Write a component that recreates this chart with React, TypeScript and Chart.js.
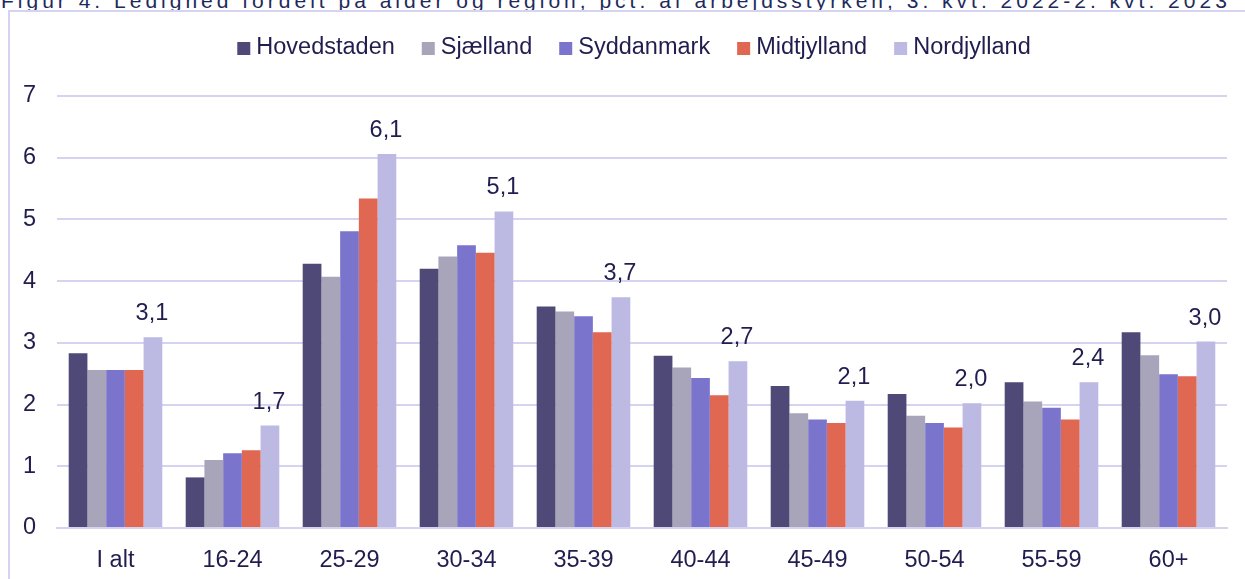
import React, { useEffect, useRef } from 'react';
import { Chart, registerables } from 'chart.js';

Chart.register(...registerables);

const categories = ['I alt', '16-24', '25-29', '30-34', '35-39', '40-44', '45-49', '50-54', '55-59', '60+'];
const seriesNames = ['Hovedstaden', 'Sjælland', 'Syddanmark', 'Midtjylland', 'Nordjylland'];
const hovedstaden = [2.83, 0.82, 4.28, 4.2, 3.59, 2.79, 2.3, 2.17, 2.36, 3.17];
const sjaelland = [2.56, 1.1, 4.07, 4.4, 3.51, 2.6, 1.86, 1.82, 2.05, 2.8];
const syddanmark = [2.56, 1.21, 4.81, 4.58, 3.43, 2.43, 1.76, 1.7, 1.95, 2.49];
const midtjylland = [2.56, 1.26, 5.34, 4.46, 3.17, 2.15, 1.7, 1.63, 1.76, 2.46];
const nordjylland = [3.09, 1.66, 6.06, 5.13, 3.74, 2.7, 2.06, 2.02, 2.36, 3.02];
const yTicks = [0, 1, 2, 3, 4, 5, 6, 7];
const title = 'Figur 4. Ledighed fordelt på alder og region, pct. af arbejdsstyrken, 3. kvt. 2022-2. kvt. 2023';

const colors = ['#4E4976', '#A8A4BA', '#7B74CC', '#E06752', '#BCB9E2'];
const FONT = '"Liberation Sans", Arial, sans-serif';
const FS = 23.5;
const TEXT = '#211D4E';
const GRID = '#D6D3F1';

const valueLabels = {
  id: 'valueLabels',
  afterDatasetsDraw(chart: any) {
    const ctx = chart.ctx;
    const idx = 4;
    const meta = chart.getDatasetMeta(idx);
    const data = chart.data.datasets[idx].data as number[];
    ctx.save();
    ctx.font = `${FS}px ${FONT}`;
    ctx.fillStyle = TEXT;
    ctx.textAlign = 'center';
    ctx.textBaseline = 'alphabetic';
    meta.data.forEach((bar: any, i: number) => {
      const txt = data[i].toFixed(1).replace('.', ',');
      ctx.fillText(txt, bar.x - 1, bar.y - 17);
    });
    ctx.restore();
  },
};

const customLegend = {
  id: 'customLegend',
  afterDraw(chart: any) {
    const ctx = chart.ctx;
    ctx.save();
    ctx.font = `${FS}px ${FONT}`;
    const box = 13;
    const gapText = 6;
    const gapItem = 27;
    const ds = chart.data.datasets;
    const widths = ds.map((d: any) => ctx.measureText(d.label).width);
    const total = widths.reduce((a: number, w: number) => a + box + gapText + w, 0) + gapItem * (ds.length - 1);
    let x = 634 - total / 2;
    ctx.textBaseline = 'alphabetic';
    ctx.textAlign = 'left';
    ds.forEach((d: any, i: number) => {
      ctx.fillStyle = d.backgroundColor;
      ctx.fillRect(x, 42, box, box);
      ctx.fillStyle = TEXT;
      ctx.fillText(d.label, x + box + gapText, 54);
      x += box + gapText + widths[i] + gapItem;
    });
    ctx.restore();
  },
};

export default function App() {
  const ref = useRef<HTMLCanvasElement>(null);
  useEffect(() => {
    const series = [hovedstaden, sjaelland, syddanmark, midtjylland, nordjylland];
    const chart = new Chart(ref.current as HTMLCanvasElement, {
      type: 'bar',
      data: {
        labels: categories,
        datasets: series.map((s, i) => ({
          label: seriesNames[i],
          data: s,
          backgroundColor: colors[i],
          borderWidth: 0,
          categoryPercentage: 0.8,
          barPercentage: 1,
        })),
      },
      options: {
        responsive: false,
        animation: false,
        layout: { padding: { top: 96, right: 18, left: 0, bottom: 0 } },
        plugins: { legend: { display: false }, tooltip: { enabled: false } },
        scales: {
          x: {
            grid: { display: false },
            border: { display: true, color: GRID, width: 2 },
            ticks: { color: TEXT, font: { family: FONT, size: FS }, padding: 10, maxRotation: 0 },
            afterFit: (s: any) => {
              s.height = 51;
            },
          },
          y: {
            min: 0,
            max: 7,
            afterBuildTicks: (s: any) => {
              s.ticks = yTicks.map((v) => ({ value: v }));
            },
            ticks: { color: TEXT, font: { family: FONT, size: FS }, padding: 21 },
            grid: { color: GRID, lineWidth: 2, drawTicks: false },
            border: { display: false },
            afterFit: (s: any) => {
              s.width = 57;
            },
          },
        },
      },
      plugins: [valueLabels, customLegend],
    });
    return () => chart.destroy();
  }, []);

  return (
    <div style={{ position: 'fixed', left: 0, top: 0, width: 1245, height: 579, overflow: 'hidden', background: '#fff' }}>
      <div
        style={{
          position: 'absolute',
          left: 1,
          top: -10,
          whiteSpace: 'nowrap',
          fontFamily: FONT,
          fontSize: 21,
          lineHeight: '21px',
          letterSpacing: 4,
          color: '#1D2A5C',
        }}
      >
        {title}
      </div>
      <div
        style={{
          position: 'absolute',
          left: 8,
          top: 10,
          width: 1300,
          height: 700,
          borderLeft: `2px solid ${GRID}`,
          borderTop: `2px solid ${GRID}`,
        }}
      />
      <canvas ref={ref} width={1245} height={579} style={{ position: 'absolute', left: 0, top: 0, display: 'block' }} />
    </div>
  );
}
